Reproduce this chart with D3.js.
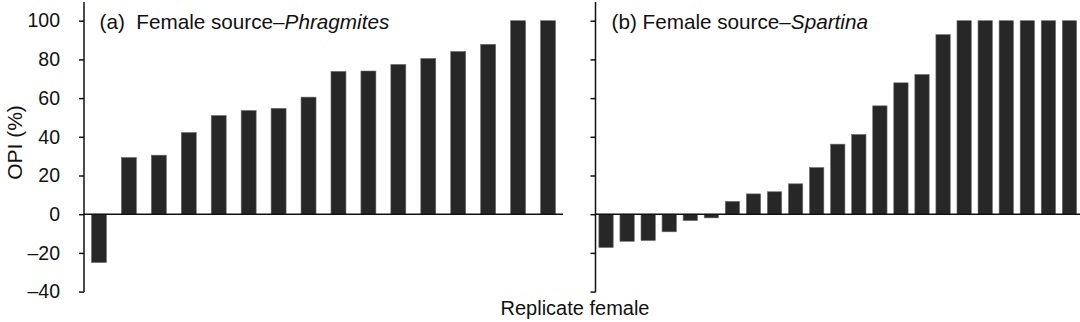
<!DOCTYPE html>
<html>
<head>
<meta charset="utf-8">
<script src="https://cdn.jsdelivr.net/npm/d3@7"></script>
<style>
html,body{margin:0;padding:0;background:#fff;}
svg{display:block;}
text{font-family:"Liberation Sans",Arial,Helvetica,sans-serif;fill:#111;}
</style>
</head>
<body>
<svg id="chart" width="1080" height="322"></svg>
<script>
// ---- data ----
const phragmitesValues = [-25, 29.3, 30.5, 42.2, 51, 53.6, 54.7, 60.5, 73.8, 74, 77.4, 80.5, 84.1, 87.8, 100, 100];
const spartinaValues = [-17.2, -14, -13.6, -9.1, -3.3, -1.9, 6.6, 10.5, 11.6, 15.7, 24.1, 36.2, 41.2, 56, 67.9, 72.2, 92.8, 100, 100, 100, 100, 100, 100];
const yTicks = [-40, -20, 0, 20, 40, 60, 80, 100];
const panelTitles = ["(a)\u00A0 Female source\u2013", "(b) Female source\u2013"];
const panelSpecies = ["Phragmites", "Spartina"];
const yLabel = "OPI (%)";
const xLabel = "Replicate female";

const svg = d3.select("#chart");
const y = d3.scaleLinear().domain([-40, 100]).range([291.6, 20.7]);
const barFill = "#272727";

function panel(values, x0, x1, padInner, padOuter, showLabels, title, species, tx) {
  const x = d3.scaleBand().domain(values.map((d, i) => i)).range([x0, x1])
    .paddingInner(padInner).paddingOuter(padOuter);
  const g = svg.append("g");
  // bars
  g.selectAll("rect.bar").data(values).join("rect")
    .attr("class", "bar")
    .attr("x", (d, i) => x(i))
    .attr("width", x.bandwidth())
    .attr("y", d => y(Math.max(0, d)))
    .attr("height", d => Math.abs(y(d) - y(0)))
    .attr("fill", barFill)
    .attr("stroke", "#6a6a6a")
    .attr("stroke-width", 0.6);
  // zero baseline
  g.append("line")
    .attr("x1", x0).attr("x2", x1)
    .attr("y1", y(0)).attr("y2", y(0))
    .attr("stroke", "#111").attr("stroke-width", 1.5);
  // y axis
  const axis = d3.axisLeft(y).tickValues(yTicks).tickSizeInner(5).tickSizeOuter(0).tickPadding(19)
    .tickFormat(d => showLabels ? (d < 0 ? "\u2013" + Math.abs(d) : d) : "");
  const ag = g.append("g").attr("transform", `translate(${x0},0)`).call(axis);
  ag.select(".domain").remove();
  ag.selectAll(".tick line").attr("stroke", "#111").attr("stroke-width", 1.5);
  ag.selectAll(".tick text").attr("font-size", 19.5).style("font-family", '"Liberation Sans",Arial,sans-serif').attr("fill", "#111");
  ag.append("line").attr("x1", 0).attr("x2", 0).attr("y1", 2).attr("y2", y(-40) + 0.75)
    .attr("stroke", "#111").attr("stroke-width", 1.5);
  // title
  const t = g.append("text").attr("x", tx).attr("y", 29.3).attr("font-size", 20.7);
  t.append("tspan").text(title);
  t.append("tspan").attr("font-style", "italic").text(species);
}

panel(phragmitesValues, 84, 563, 0.5, 0.25, true, panelTitles[0], panelSpecies[0], 99.5);
panel(spartinaValues, 595.5, 1080, 0.32, 0.16, false, panelTitles[1], panelSpecies[1], 611.5);

svg.append("text")
  .attr("transform", "translate(22,142.5) rotate(-90)")
  .attr("text-anchor", "middle")
  .attr("font-size", 21)
  .text(yLabel);

svg.append("text")
  .attr("x", 575).attr("y", 315)
  .attr("text-anchor", "middle")
  .attr("font-size", 20)
  .text(xLabel);
</script>
</body>
</html>
